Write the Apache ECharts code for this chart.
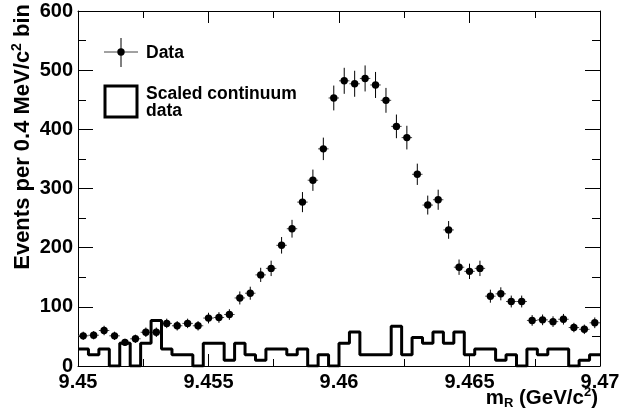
<!DOCTYPE html>
<html>
<head>
<meta charset="utf-8">
<script src="https://cdn.jsdelivr.net/npm/echarts@6/dist/echarts.min.js"></script>
<style>
  html, body { margin: 0; padding: 0; background: #fff; }
  #main { width: 639px; height: 418px; }
</style>
</head>
<body>
<div id="main"></div>
<script>
// binning: 50 bins of 0.4 MeV from 9.45 to 9.47 GeV
var binLow = 9.45;
var binWidth = 0.0004;

// data points (events per bin) and their error bars
var dataCounts = [51, 52, 60, 51, 40, 46, 57, 57, 72, 68,
                  72, 68, 81, 82, 87, 115, 123, 154, 165, 204,
                  232, 277, 314, 367, 453, 482, 477, 486, 475, 449,
                  405, 386, 324, 272, 281, 230, 167, 160, 165, 118,
                  122, 109, 109, 77, 78, 75, 79, 65, 62, 73];
var dataErrors = [7, 7, 8, 7, 6, 7, 8, 8, 8, 8,
                  8, 8, 9, 9, 9, 11, 11, 12, 13, 14,
                  15, 17, 18, 19, 21, 22, 22, 22, 22, 21,
                  20, 20, 18, 16, 17, 15, 13, 13, 13, 11,
                  11, 10, 10, 9, 9, 9, 9, 8, 8, 9];

// scaled continuum histogram
var continuum = [28.8, 19.2, 28.8, 0, 38.4, 0, 38.4, 76.8, 28.8, 19.2,
                 19.2, 0, 38.4, 38.4, 9.6, 38.4, 19.2, 9.6, 28.8, 28.8,
                 19.2, 28.8, 0, 19.2, 0, 38.4, 57.6, 19.2, 19.2, 19.2,
                 67.2, 19.2, 48, 38.4, 57.6, 38.4, 57.6, 19.2, 28.8, 28.8,
                 9.6, 19.2, 0, 28.8, 19.2, 28.8, 28.8, 0, 9.6, 19.2];

var xMin = 9.45, xMax = 9.47, xStep = 0.005;
var yMin = 0, yMax = 600, yStep = 100;

var font = '"Liberation Sans", Arial, Helvetica, sans-serif';

var pointData = [];
var histData = [];
for (var i = 0; i < dataCounts.length; i++) {
    var lo = binLow + i * binWidth;
    pointData.push([lo + binWidth / 2, dataCounts[i], dataErrors[i]]);
    histData.push([lo, continuum[i]]);
}
histData.push([binLow + continuum.length * binWidth, continuum[continuum.length - 1]]);

var myChart = echarts.init(document.getElementById('main'));

function xAxisCfg(pos, showLabel) {
    return {
        type: 'value', position: pos, min: xMin, max: xMax, interval: xStep,
        axisLine: { show: true, onZero: false, lineStyle: { color: '#000', width: 1 } },
        axisTick: { show: true, inside: true, length: 12, lineStyle: { color: '#000' } },
        minorTick: { show: true, splitNumber: 2, length: 7, lineStyle: { color: '#000' } },
        splitLine: { show: false },
        axisLabel: {
            show: showLabel, margin: 6, showMinLabel: true, showMaxLabel: true,
            color: '#000', fontFamily: font, fontWeight: 'bold', fontSize: 20,
            formatter: function (v) { return parseFloat(v.toFixed(3)).toString(); }
        }
    };
}

function yAxisCfg(pos, showLabel) {
    return {
        type: 'value', position: pos, min: yMin, max: yMax, interval: yStep,
        axisLine: { show: true, onZero: false, lineStyle: { color: '#000', width: 1 } },
        axisTick: { show: true, inside: true, length: 15, lineStyle: { color: '#000' } },
        minorTick: { show: true, splitNumber: 2, length: 8, lineStyle: { color: '#000' } },
        splitLine: { show: false },
        axisLabel: {
            show: showLabel, margin: 5, showMinLabel: true, showMaxLabel: true,
            color: '#000', fontFamily: font, fontWeight: 'bold', fontSize: 20
        }
    };
}

myChart.setOption({
    animation: false,
    backgroundColor: '#fff',
    grid: { left: 78, right: 39, top: 11, bottom: 52, containLabel: false },
    xAxis: [xAxisCfg('bottom', true), xAxisCfg('top', false)],
    yAxis: [yAxisCfg('left', true), yAxisCfg('right', false)],
    series: [
        {
            name: 'Data',
            type: 'custom',
            data: pointData,
            z: 3,
            renderItem: function (params, api) {
                var x = api.value(0), y = api.value(1), e = api.value(2);
                var c = api.coord([x, y]);
                var top = api.coord([x, y + e]);
                var bot = api.coord([x, y - e]);
                var left = api.coord([x - binWidth / 2, y]);
                var right = api.coord([x + binWidth / 2, y]);
                return {
                    type: 'group',
                    children: [
                        { type: 'line', shape: { x1: c[0], y1: top[1], x2: c[0], y2: bot[1] },
                          style: { stroke: '#000', lineWidth: 1 } },
                        { type: 'line', shape: { x1: left[0], y1: c[1], x2: right[0], y2: c[1] },
                          style: { stroke: '#444', lineWidth: 1 } },
                        { type: 'circle', shape: { cx: c[0], cy: c[1], r: 3.7 },
                          style: { fill: '#000' } }
                    ]
                };
            }
        },
        {
            name: 'Scaled continuum data',
            type: 'line',
            step: 'end',
            data: histData,
            symbol: 'none',
            z: 4,
            lineStyle: { color: '#000', width: 3 }
        }
    ],
    graphic: [
        // legend: Data
        { type: 'line', shape: { x1: 104, y1: 52, x2: 138, y2: 52 }, style: { stroke: '#444', lineWidth: 1 } },
        { type: 'line', shape: { x1: 121, y1: 38, x2: 121, y2: 67 }, style: { stroke: '#000', lineWidth: 1 } },
        { type: 'circle', shape: { cx: 121, cy: 52, r: 3.7 }, style: { fill: '#000' } },
        { type: 'text', x: 146, y: 53, style: { text: 'Data', fill: '#000', font: 'bold 17.5px ' + font, verticalAlign: 'middle' } },
        // legend: continuum box
        { type: 'rect', shape: { x: 105, y: 86, width: 32, height: 31 }, style: { fill: 'none', stroke: '#000', lineWidth: 3 } },
        { type: 'text', x: 146, y: 94, style: { text: 'Scaled continuum', fill: '#000', font: 'bold 17.5px ' + font, verticalAlign: 'middle' } },
        { type: 'text', x: 146, y: 111, style: { text: 'data', fill: '#000', font: 'bold 17.5px ' + font, verticalAlign: 'middle' } },
        // axis titles
        {
            type: 'text', x: 23, y: 4, rotation: Math.PI / 2,
            style: {
                text: 'Events per 0.4 MeV/c{sup|2} bin',
                fill: '#000', font: 'bold 22px ' + font, align: 'right', verticalAlign: 'middle',
                rich: { sup: { fontSize: 14, fontWeight: 'bold', fontFamily: font, padding: [0, 0, 12, 0] } }
            }
        },
        {
            type: 'text', x: 598, y: 398,
            style: {
                text: 'm{sub|R} (GeV/c{sup|2})',
                fill: '#000', font: 'bold 20.5px ' + font, align: 'right', verticalAlign: 'middle',
                rich: {
                    sub: { fontSize: 13, fontWeight: 'bold', fontFamily: font, padding: [10, 0, 0, 0] },
                    sup: { fontSize: 13, fontWeight: 'bold', fontFamily: font, padding: [0, 0, 11, 0] }
                }
            }
        }
    ]
});
</script>
</body>
</html>
